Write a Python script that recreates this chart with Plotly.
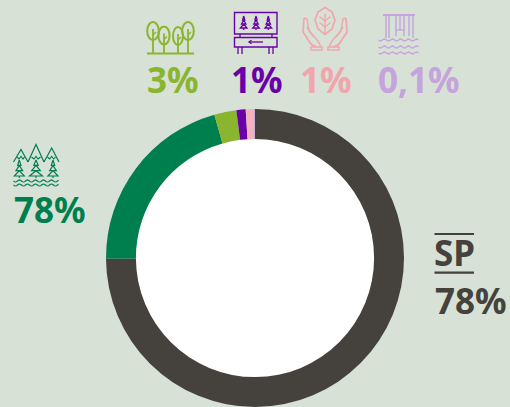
import math
import plotly.graph_objects as go

W, H = 510, 407
BG = "#d7e1d6"

categories = ["SP", "Mosaico de paisagens", "Bosques", "Reservas", "Conservação", "Cachoeiras"]
values = [75.0, 20.7, 2.4, 1.0, 0.9, 0.1]
colors = ["#45413c", "#007f4e", "#8ab52e", "#6a00a8", "#f4b3bb", "#c5a3dc"]
value_labels = ["78%", "78%", "3%", "1%", "1%", "0,1%"]

CX, CY, R_OUT, R_IN = 255, 258.5, 149.5, 119.5


def paper_path(points, closed=False):
    s = ""
    for i, (x, y) in enumerate(points):
        s += ("M" if i == 0 else "L") + f"{x / W:.5f},{1 - y / H:.5f} "
    return s + ("Z" if closed else "")


shapes = []


def line(points, color, width=1.5, closed=False):
    shapes.append(dict(type="path", xref="paper", yref="paper", path=paper_path(points, closed),
                       line=dict(color=color, width=width), layer="above"))


def rect(x0, y0, x1, y1, color, width=1.5):
    line([(x0, y0), (x1, y0), (x1, y1), (x0, y1)], color, width, True)


def oval(cx, cy, rx, ry, color, width=2):
    shapes.append(dict(type="circle", xref="paper", yref="paper", x0=(cx - rx) / W, x1=(cx + rx) / W,
                       y0=1 - (cy + ry) / H, y1=1 - (cy - ry) / H, line=dict(color=color, width=width)))


def wave(x0, x1, y, color, width=1.4, period=8.0, amp=1.0):
    pts = []
    x = x0
    while x <= x1:
        pts.append((x, y + amp * math.sin((x - x0) / period * 2 * math.pi)))
        x += 1
    line(pts, color, width)


def pine(cx, top, bottom, half, color, width=1.2, tiers=3):
    step = (bottom - top - 2) / tiers
    for i in range(tiers):
        y = top + step * (i + 1)
        line([(cx, top + step * i), (cx - half * (i + 1) / tiers, y), (cx + half * (i + 1) / tiers, y), (cx, top + step * i)], color, width)
    line([(cx, bottom - 2), (cx, bottom)], color, width)


# background disc of the donut's hole
shapes.append(dict(type="circle", xref="paper", yref="paper", layer="below",
                   x0=(CX - R_IN) / W, x1=(CX + R_IN) / W,
                   y0=1 - (CY + R_IN) / H, y1=1 - (CY - R_IN) / H,
                   fillcolor="white", line=dict(width=0)))

# --- olive trees icon
c = colors[2]
line([(147, 53.5), (194, 53.5)], c, 2)
for cx, cy, rx, ry in [(153, 31, 5.8, 9), (164, 35.5, 5.6, 9), (178, 36, 5, 9), (188, 31, 5.8, 9)]:
    oval(cx, cy, rx, ry, c)
    line([(cx, cy - 2), (cx, 53.5)], c, 1.8)
    line([(cx, cy + 4), (cx + 3, cy + 1)], c, 1.3)

# --- purple sign icon
c = colors[3]
rect(234.5, 12.5, 277, 34, c, 1.4)
rect(234.5, 37.5, 277, 47, c, 1.4)
for x in (243.7, 256, 268.3):
    pine(x, 16, 30, 3.3, c, 1.3)
line([(249, 42), (263, 42)], c, 1.3)
line([(251.5, 40.3), (249, 42), (251.5, 43.7)], c, 1.3)
for x in (238, 242, 269, 273):
    line([(x, 47), (x, 54)], c, 1.3)
for x in (240, 272):
    line([(x, 34), (x, 37.5)], c, 1.3)

# --- pink leaf and hands icon
c = "#f0a6ad"
line([(325, 7.5), (332, 12), (335, 20), (332, 29), (325, 34.5), (318, 29), (315, 20), (318, 12)], c, 1.7, True)
line([(325, 14), (325, 35)], c, 1.4)
for dy in (0, 6):
    line([(325, 21 + dy), (319.5, 16.5 + dy)], c, 1.3)
    line([(325, 21 + dy), (330.5, 16.5 + dy)], c, 1.3)
line([(304, 18), (303, 32), (311, 44), (316, 47)], c, 1.7)
line([(304, 18), (307, 19), (309, 31), (314, 37)], c, 1.4)
line([(307, 27), (311, 33), (318, 41), (321, 47)], c, 1.4)
rect(311, 47, 322, 50, c, 1.5)
line([(346, 18), (347, 32), (339, 44), (334, 47)], c, 1.7)
line([(346, 18), (343, 19), (341, 31), (336, 37)], c, 1.4)
line([(343, 27), (339, 33), (332, 41), (329, 47)], c, 1.4)
rect(328, 47, 339, 50, c, 1.5)

# --- lavender waterfall icon
c = colors[5]
line([(383, 15), (415, 15)], c, 2)
for x, y1 in [(386, 38), (389, 38), (396, 36), (400, 30), (404, 36), (409, 36), (413, 38)]:
    line([(x, 15), (x, y1)], c, 1.4)
line([(396, 30), (404, 30)], c, 1.3)
wave(378.5, 419, 40, c, 1.4)
wave(378.5, 419, 47, c, 1.4)
wave(378.5, 419, 53, c, 1.4)

# --- green mountains and pines icon
c = colors[1]
for px, py, x0, x1 in [(21, 149.5, 13.5, 28), (36, 144.5, 28, 44), (51.7, 148, 44, 59)]:
    line([(x0, 162), (px, py), (x1, 162)], c, 1.2)
    line([(x0 + 3.5, 157), (px - 2, 159), (px, 156.5), (px + 2, 159), (x1 - 3.5, 157)], c, 1.1)
for x, half in [(19.3, 5), (36, 6.5), (53, 5)]:
    pine(x, 160, 178, half, c, 1.2)
wave(13.5, 59, 181, c, 1.2)
wave(13.5, 59, 185, c, 1.2)

# --- SP rules
c = colors[0]
line([(434.5, 234), (474, 234)], c, 2.2)
line([(434.5, 272.7), (474, 272.7)], c, 2.2)

FONT = "Noto Sans"


def label(text, x, y, color, size=35):
    return dict(text=f"<b>{text}</b>", x=x / W, y=1 - y / H, xref="paper", yref="paper", showarrow=False,
                xanchor="center", yanchor="middle", font=dict(family=FONT, size=size, color=color))


annotations = [
    label(value_labels[2], 173, 79.5, colors[2]),
    label(value_labels[3], 257, 79.5, colors[3]),
    label(value_labels[4], 325.5, 79.5, "#f0a6ad"),
    label(value_labels[5], 418.5, 79.5, colors[5]),
    label(value_labels[1], 50, 209.5, colors[1]),
    label(categories[0], 454.5, 252.5, colors[0]),
    label(value_labels[0], 471, 300, colors[0]),
]

fig = go.Figure(go.Pie(
    labels=categories, values=values, sort=False, direction="clockwise", rotation=0,
    hole=R_IN / R_OUT, textinfo="none", showlegend=False,
    marker=dict(colors=colors, line=dict(width=0)),
    domain=dict(x=[(CX - R_OUT) / W, (CX + R_OUT) / W], y=[0, 1 - (CY - R_OUT) / H]),
))
fig.update_layout(width=W, height=H, margin=dict(l=0, r=0, t=0, b=0), paper_bgcolor=BG, plot_bgcolor=BG,
                  shapes=shapes, annotations=annotations)
fig.write_html("out.html", config=dict(displayModeBar=False),
               post_script="document.body.style.margin='0';document.body.style.background='#d7e1d6';document.body.style.overflow='hidden';")
